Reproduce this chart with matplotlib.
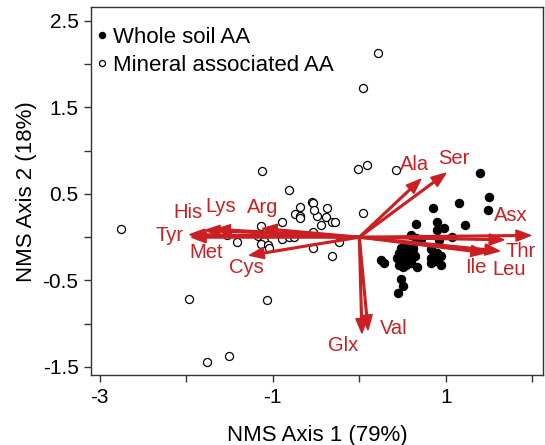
import numpy as np
import matplotlib.pyplot as plt

plt.rcParams['font.family'] = ['Liberation Sans', 'DejaVu Sans']

# whole soil AA scores (filled)
whole_x = [1.39, 1.50, 1.49, 1.15, 0.85, 0.65, 0.90, 0.98, 1.22, 1.07, 0.90, 0.25, 0.28,
           0.48, 0.51, 0.45, 0.67, 0.60, 0.65, 0.71, 0.92, 0.48, 0.52, 0.56, 0.60, 0.46,
           0.50, 0.54, 0.58, 0.62, 0.44, 0.48, 0.52, 0.56, 0.60, 0.46, 0.50, 0.54, 0.60,
           0.64, 0.62, 0.83, 0.83, 0.83, 0.89, 0.94, 0.94, 0.90]
whole_y = [0.74, 0.47, 0.31, 0.39, 0.34, 0.15, 0.17, 0.11, 0.14, 0.00, 0.08, -0.26, -0.30,
           -0.48, -0.56, -0.65, -0.34, 0.02, -0.01, -0.02, -0.03, -0.12, -0.10, -0.13, -0.14, -0.18,
           -0.20, -0.18, -0.20, -0.18, -0.24, -0.26, -0.28, -0.25, -0.27, -0.32, -0.35, -0.32, -0.30,
           -0.22, -0.12, -0.14, -0.24, -0.30, -0.28, -0.22, -0.32, -0.18]

# mineral associated AA scores (open)
min_x = [0.22, 0.04, -0.02, 0.09, 0.42, 0.04, -1.13, -0.81, -2.75, -1.97, -1.07, -1.76,
         -1.51, -0.32, -0.23, -0.53, -1.41, -1.53, -0.68, -0.55, -0.53, -0.37, -0.74, -0.69,
         -0.68, -0.49, -0.52, -0.39, -0.31, -0.28, -0.44, -0.89, -1.14, -1.17, -1.10, -1.14,
         -1.05, -1.04, -0.89, -0.81, -0.76, -0.54]
min_y = [2.13, 1.73, 0.79, 0.83, 0.78, 0.28, 0.76, 0.55, 0.10, -0.72, -0.73, -1.44,
         -1.37, -0.22, -0.06, -0.12, -0.05, 0.03, 0.35, 0.41, 0.39, 0.34, 0.27, 0.24,
         0.22, 0.25, 0.32, 0.23, 0.18, 0.18, 0.14, 0.17, 0.13, 0.01, -0.04, -0.08,
         -0.09, -0.12, -0.02, 0.00, 0.00, 0.06]

# amino acid vectors
aa = ['Asx', 'Thr', 'Leu', 'Ile', 'Ser', 'Ala', 'Val', 'Glx',
      'Tyr', 'Met', 'His', 'Lys', 'Arg', 'Cys']
vec_x = [1.98, 1.67, 1.62, 1.46, 1.00, 0.71, 0.10, 0.03,
         -1.96, -1.94, -1.78, -1.66, -1.12, -1.27]
vec_y = [0.02, -0.03, -0.16, -0.18, 0.74, 0.67, -1.07, -1.11,
         0.03, 0.00, 0.08, 0.09, 0.10, -0.21]
lab_x = [1.75, 1.86, 1.73, 1.35, 1.09, 0.64, 0.40, -0.19,
         -2.19, -1.77, -1.98, -1.60, -1.12, -1.31]
lab_y = [0.25, -0.17, -0.37, -0.35, 0.91, 0.84, -1.06, -1.25,
         0.02, -0.18, 0.29, 0.35, 0.34, -0.35]

red = '#cc1f24'

fig = plt.figure(figsize=(5.45, 4.45), dpi=100)
ax = fig.add_axes([0.167, 0.157, 0.829, 0.827])

ax.plot(whole_x, whole_y, 'o', color='black', markersize=5.8, label='Whole soil AA')
ax.plot(min_x, min_y, 'o', mfc='white', mec='black', mew=0.9, markersize=5.8,
        label='Mineral associated AA')

for i in range(len(aa)):
    ax.arrow(0, 0, vec_x[i], vec_y[i], width=0.02, head_width=0.13, head_length=0.17,
             length_includes_head=True, color=red, zorder=3)
    ax.text(lab_x[i], lab_y[i], aa[i], color=red, fontsize=14.5, ha='center', va='center', zorder=4)

ax.set_xlim(-3.10, 2.12)
ax.set_ylim(-1.595, 2.66)
ax.set_xticks([-3, -2, -1, 0, 1, 2])
ax.set_xticklabels(['-3', '', '-1', '', '1', ''])
ax.set_yticks([-1.5, -1, -0.5, 0, 0.5, 1, 1.5, 2, 2.5])
ax.set_yticklabels(['-1.5', '', '-0.5', '', '0.5', '', '1.5', '', '2.5'])
ax.tick_params(direction='out', length=5, width=1, labelsize=15, color='#333333', pad=4)
for s in ax.spines.values():
    s.set_color('#333333')
    s.set_linewidth(1)
ax.set_xlabel('NMS Axis 1 (79%)', fontsize=16, labelpad=13)
ax.set_ylabel('NMS Axis 2 (18%)', fontsize=16, labelpad=4)

ax.legend(loc='upper left', bbox_to_anchor=(-0.025, 0.97), frameon=False, fontsize=16,
          handletextpad=-0.1, markerscale=0.75, borderaxespad=0.0, labelspacing=0.3,
          handlelength=1.2)

plt.savefig('out.png')
